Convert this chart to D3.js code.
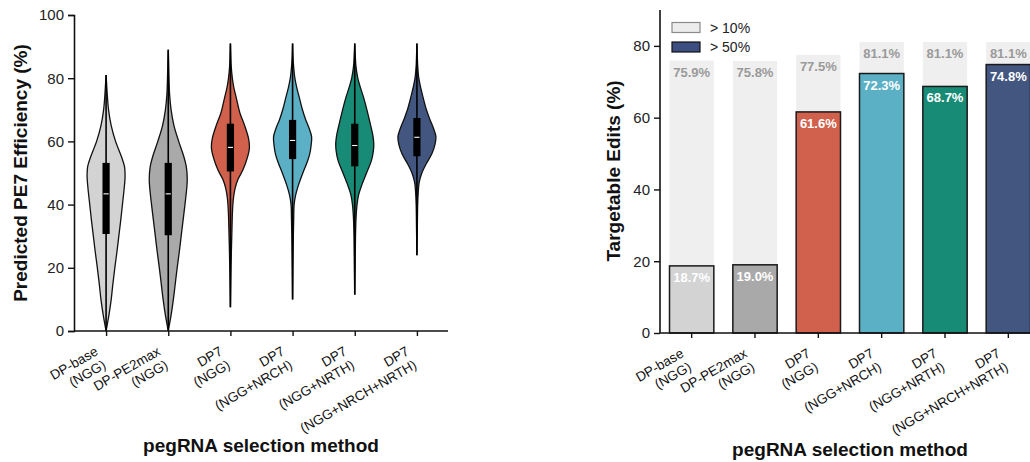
<!DOCTYPE html>
<html>
<head>
<meta charset="utf-8">
<script src="https://cdn.jsdelivr.net/npm/d3@7"></script>
<style>
  body { margin: 0; background: #fff; }
  text { font-family: "Liberation Sans", Arial, sans-serif; }
</style>
</head>
<body>
<script>
// categories shared by both panels
var labelTop = ['DP-base', 'DP-PE2max', 'DP7', 'DP7', 'DP7', 'DP7'];
var labelBottom = ['(NGG)', '(NGG)', '(NGG)', '(NGG+NRCH)', '(NGG+NRTH)', '(NGG+NRCH+NRTH)'];
var colors = ['#d3d3d3', '#a9a9a9', '#d1604c', '#5cb0c6', '#188b76', '#435680'];

// violin outlines: [value, relative half width]
var violin1 = [[0,0],[2,0.06],[5,0.15],[10,0.27],[15,0.36],[20,0.46],[25,0.57],[30,0.67],[35,0.77],[40,0.86],[45,0.95],[49,1.0],[52,0.97],[55,0.82],[60,0.5],[65,0.27],[70,0.13],[75,0.06],[78,0.03],[81,0]];
var violin2 = [[0,0],[2,0.06],[5,0.15],[10,0.27],[15,0.37],[20,0.47],[25,0.58],[30,0.68],[35,0.78],[40,0.88],[45,0.97],[48,1.0],[52,0.95],[55,0.83],[60,0.55],[65,0.3],[70,0.15],[75,0.07],[80,0.04],[85,0.02],[89,0]];
var violin3 = [[7.5,0],[15,0.02],[25,0.05],[32,0.08],[38,0.11],[42,0.16],[45,0.24],[48,0.4],[51,0.66],[55,0.9],[58,1.0],[61,0.95],[65,0.75],[69,0.5],[74,0.3],[77,0.18],[80,0.1],[84,0.04],[87,0.02],[91,0]];
var violin4 = [[10,0],[20,0.02],[30,0.04],[36,0.06],[40,0.08],[43,0.16],[46,0.3],[50,0.54],[53,0.74],[56,0.9],[59,0.98],[61.5,1.0],[64,0.88],[67,0.68],[70,0.52],[74,0.35],[77,0.22],[80,0.12],[84,0.05],[87,0.02],[91,0]];
var violin5 = [[11.5,0],[20,0.02],[30,0.04],[36,0.07],[40,0.12],[43,0.2],[46,0.36],[50,0.62],[54,0.88],[57,0.98],[59.5,1.0],[62,0.95],[66,0.8],[70,0.64],[74,0.46],[77,0.3],[80,0.16],[84,0.06],[87,0.03],[91,0]];
var violin6 = [[24,0],[32,0.02],[40,0.04],[44,0.07],[47,0.12],[50,0.26],[53,0.5],[56,0.78],[59,0.95],[61.5,1.0],[64,0.88],[67,0.68],[70,0.5],[74,0.32],[77,0.2],[80,0.1],[84,0.04],[87,0.02],[91,0]];
var violins = [violin1, violin2, violin3, violin4, violin5, violin6];

// inner box plot
var q1 = [30.7, 30.3, 50.5, 54.4, 52.1, 55.3];
var median = [43.4, 43.4, 58.1, 60.3, 58.7, 61.3];
var q3 = [53.2, 53.2, 65.6, 66.8, 65.6, 67.4];

// targetable edits (%)
var over10 = [75.9, 75.8, 77.5, 81.1, 81.1, 81.1];
var over50 = [18.7, 19.0, 61.6, 72.3, 68.7, 74.8];
var legendLabels = ['> 10%', '> 50%'];

var svg = d3.select('body').append('svg')
  .attr('width', 1030)
  .attr('height', 462);

var drawXLabels = (g, x, axisY) => {
  labelTop.forEach((t, i) => {
    var lab = g.append('g')
      .attr('transform', 'translate(' + (x(i) - 7) + ',' + (axisY + 23) + ') rotate(-30)');
    lab.append('text').attr('text-anchor', 'end').attr('font-size', 13.5).attr('fill', '#111').text(t);
    lab.append('text').attr('text-anchor', 'end').attr('font-size', 13.5).attr('fill', '#111')
      .attr('y', 15.5).text(labelBottom[i]);
  });
};

var styleAxis = (g) => {
  g.selectAll('.domain').attr('stroke', '#111').attr('stroke-width', 1.6);
  g.selectAll('.tick line').attr('stroke', '#111').attr('stroke-width', 1.4);
  g.selectAll('.tick text').attr('font-size', 15).attr('fill', '#222')
    .style('font-family', '"Liberation Sans", Arial, sans-serif');
};

// ---------- left: violins ----------
var x1 = d3.scalePoint().domain(d3.range(6)).range([75, 448]).padding(0.5);
var y1 = d3.scaleLinear().domain([0, 100]).range([331, 15]);
var w1 = d3.scaleLinear().domain([0, 1]).range([0, 19]);

var left = svg.append('g');

violins.forEach((v, i) => {
  var cx = x1(i);
  var area = d3.area()
    .curve(d3.curveCatmullRom)
    .y(d => y1(d[0]))
    .x0(d => cx - w1(d[1]))
    .x1(d => cx + w1(d[1]));
  left.append('path')
    .attr('d', area(v))
    .attr('fill', colors[i])
    .attr('stroke', '#111')
    .attr('stroke-width', 1.3);
  left.append('line')
    .attr('x1', cx).attr('x2', cx)
    .attr('y1', y1(v[0][0])).attr('y2', y1(v[v.length - 1][0]))
    .attr('stroke', '#000').attr('stroke-width', 1.6);
  left.append('rect')
    .attr('x', cx - 3.6).attr('width', 7.2)
    .attr('y', y1(q3[i])).attr('height', y1(q1[i]) - y1(q3[i]))
    .attr('fill', '#000');
  left.append('line')
    .attr('x1', cx - 2.6).attr('x2', cx + 2.6)
    .attr('y1', y1(median[i])).attr('y2', y1(median[i]))
    .attr('stroke', '#fff').attr('stroke-width', 1.1);
});

left.append('g')
  .attr('transform', 'translate(74,0)')
  .call(d3.axisLeft(y1).tickValues([0, 20, 40, 60, 80, 100]).tickSize(6).tickPadding(4))
  .call(styleAxis);
left.append('g')
  .attr('transform', 'translate(0,331)')
  .call(d3.axisBottom(x1).tickSize(5).tickFormat(''))
  .call(styleAxis)
  .call(g => g.select('.domain').attr('d', 'M74,0H448'));
drawXLabels(left, x1, 331);

left.append('text')
  .attr('transform', 'translate(27,173) rotate(-90)')
  .attr('text-anchor', 'middle')
  .attr('font-size', 19).attr('font-weight', 'bold').attr('fill', '#111')
  .text('Predicted PE7 Efficiency (%)');
left.append('text')
  .attr('x', 261).attr('y', 452)
  .attr('text-anchor', 'middle')
  .attr('font-size', 19).attr('font-weight', 'bold').attr('fill', '#111')
  .text('pegRNA selection method');

// ---------- right: bars ----------
var x2 = d3.scaleBand().domain(d3.range(6)).range([660, 1040]).paddingInner(0.3).paddingOuter(0.15);
var y2 = d3.scaleLinear().domain([0, 90]).range([333, 10]);

var right = svg.append('g');

right.selectAll('.bg')
  .data(over10)
  .enter()
  .append('rect')
  .attr('class', 'bg')
  .attr('x', (d, i) => x2(i))
  .attr('width', x2.bandwidth())
  .attr('y', d => y2(d))
  .attr('height', d => y2(0) - y2(d))
  .attr('fill', '#efefef');

right.selectAll('.fg')
  .data(over50)
  .enter()
  .append('rect')
  .attr('class', 'fg')
  .attr('x', (d, i) => x2(i))
  .attr('width', x2.bandwidth())
  .attr('y', d => y2(d))
  .attr('height', d => y2(0) - y2(d))
  .attr('fill', (d, i) => colors[i])
  .attr('stroke', '#1a1a1a')
  .attr('stroke-width', 1.5);

right.selectAll('.bgLabel')
  .data(over10)
  .enter()
  .append('text')
  .attr('x', (d, i) => x2(i) + x2.bandwidth() / 2)
  .attr('y', d => y2(d) + 16)
  .attr('text-anchor', 'middle')
  .attr('font-size', 13).attr('font-weight', 'bold')
  .attr('fill', '#9a9a9a')
  .text(d => d.toFixed(1) + '%');

right.selectAll('.fgLabel')
  .data(over50)
  .enter()
  .append('text')
  .attr('x', (d, i) => x2(i) + x2.bandwidth() / 2)
  .attr('y', d => y2(d) + 16)
  .attr('text-anchor', 'middle')
  .attr('font-size', 13).attr('font-weight', 'bold')
  .attr('fill', '#fff')
  .text(d => d.toFixed(1) + '%');

right.append('g')
  .attr('transform', 'translate(660,0)')
  .call(d3.axisLeft(y2).tickValues([0, 20, 40, 60, 80]).tickSize(6).tickPadding(4))
  .call(styleAxis)
  .call(g => g.select('.domain').attr('d', 'M0,10V333'));
right.append('g')
  .attr('transform', 'translate(0,333)')
  .call(d3.axisBottom(x2).tickSize(5).tickFormat(''))
  .call(styleAxis)
  .call(g => g.select('.domain').attr('d', 'M660,0H1040'));
drawXLabels(right, i => x2(i) + x2.bandwidth() / 2, 333);

// legend
var legendFill = ['#ececec', '#3d4f80'];
var legendStroke = ['#8a8a8a', '#111'];
legendLabels.forEach((t, i) => {
  right.append('rect')
    .attr('x', 672).attr('y', 22.5 + i * 19.5)
    .attr('width', 28).attr('height', 10)
    .attr('fill', legendFill[i]).attr('stroke', legendStroke[i]).attr('stroke-width', 1.2);
  right.append('text')
    .attr('x', 710).attr('y', 32.5 + i * 19.5)
    .attr('font-size', 14).attr('fill', '#222')
    .text(t);
});

right.append('text')
  .attr('transform', 'translate(620,171) rotate(-90)')
  .attr('text-anchor', 'middle')
  .attr('font-size', 19).attr('font-weight', 'bold').attr('fill', '#111')
  .text('Targetable Edits (%)');
right.append('text')
  .attr('x', 850).attr('y', 456)
  .attr('text-anchor', 'middle')
  .attr('font-size', 19).attr('font-weight', 'bold').attr('fill', '#111')
  .text('pegRNA selection method');
</script>
</body>
</html>
